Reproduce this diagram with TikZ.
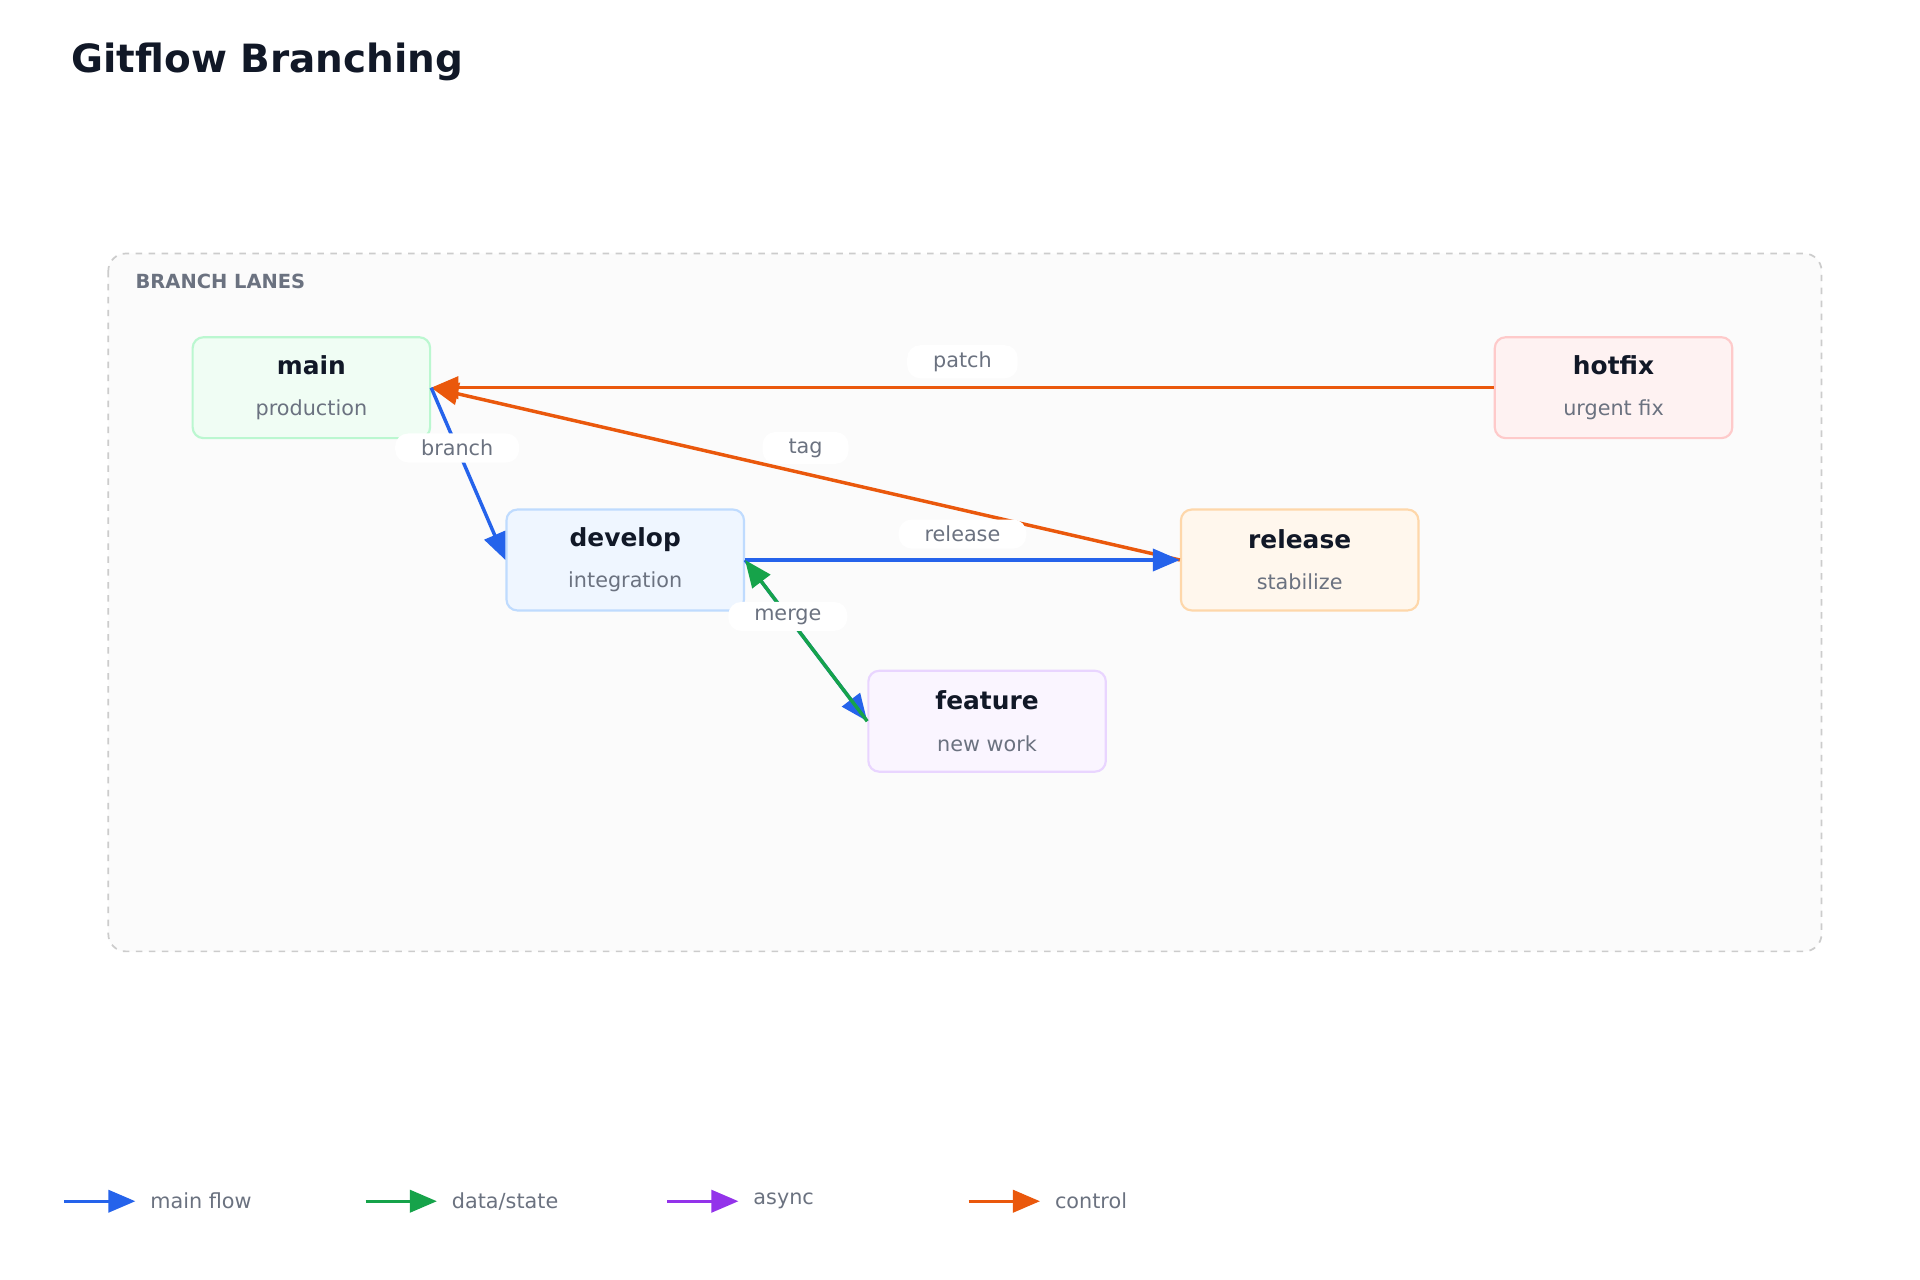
\documentclass[tikz,border=0pt]{standalone}
\usepackage{fontspec}
\setmainfont{DejaVu Sans}
\usetikzlibrary{arrows.meta}
\definecolor{flowblue}{HTML}{2563EB}
\definecolor{datagreen}{HTML}{16A34A}
\definecolor{asyncpurple}{HTML}{9333EA}
\definecolor{ctrlorange}{HTML}{EA580C}
\definecolor{darktxt}{HTML}{111827}
\definecolor{subtxt}{HTML}{6B7280}
\definecolor{mainfill}{HTML}{F0FDF4}\definecolor{maindraw}{HTML}{BBF7D0}
\definecolor{devfill}{HTML}{EFF6FF}\definecolor{devdraw}{HTML}{BFDBFE}
\definecolor{relfill}{HTML}{FFF7ED}\definecolor{reldraw}{HTML}{FED7AA}
\definecolor{hotfill}{HTML}{FEF2F2}\definecolor{hotdraw}{HTML}{FECACA}
\definecolor{featfill}{HTML}{FAF5FF}\definecolor{featdraw}{HTML}{E9D5FF}
\newcommand{\brtitle}[2]{{\fontsize{11.5}{13}\selectfont\bfseries\color{darktxt}#1}\\[7pt]{\fontsize{9.6}{11}\selectfont\color{subtxt}#2}}

\begin{document}
\begin{tikzpicture}[x=0.02cm,y=-0.02cm,
  branch/.style={draw,rounded corners=5pt,line width=1pt,minimum width=3.86cm,minimum height=1.64cm,align=center},
  edge/.style={line width=1.6pt,-{Triangle[length=0.44cm,width=0.36cm]}},
  lbl/.style={fill=white,rounded corners=6pt,inner xsep=12pt,inner ysep=3pt,text=subtxt,font=\fontsize{9.6}{11}\selectfont}]
  \useasboundingbox (0,0) rectangle (1560,1040);
  \fill[white] (0,0) rectangle (1560,1040);
  \node[anchor=west,font=\fontsize{18}{20}\selectfont\bfseries,text=darktxt] (title) at (52,50) {Gitflow Branching};
  % lane container
  \draw[dashed,draw=gray!40,fill=gray!3,rounded corners=8pt,line width=0.8pt] (88,206) rectangle (1480,773);
  \node[anchor=west,font=\fontsize{9}{11}\selectfont\bfseries,text=subtxt] (lanes) at (104,229) {BRANCH LANES};
  % branches
  \node[branch,fill=mainfill,draw=maindraw] (main) at (253,315) {\brtitle{main}{production}};
  \node[branch,fill=devfill,draw=devdraw] (develop) at (508,455) {\brtitle{develop}{integration}};
  \node[branch,fill=relfill,draw=reldraw] (release) at (1056,455) {\brtitle{release}{stabilize}};
  \node[branch,fill=hotfill,draw=hotdraw] (hotfix) at (1311,315) {\brtitle{hotfix}{urgent fix}};
  \node[branch,fill=featfill,draw=featdraw] (feature) at (802,586) {\brtitle{feature}{new work}};
  % connectors
  \draw[edge,ctrlorange] (hotfix.west) -- node[lbl,pos=0.5,yshift=12pt] {patch} (main.east);
  \draw[edge,ctrlorange] (release.west) -- node[lbl,pos=0.5,yshift=12pt] {tag} (main.east);
  \draw[edge,flowblue] (main.east) -- node[lbl,pos=0.35] {branch} (develop.west);
  \draw[edge,flowblue] (develop.east) -- node[lbl,pos=0.5,yshift=12pt] {release} (release.west);
  \draw[edge,flowblue] (develop.east) -- (feature.west);
  \draw[edge,datagreen] (feature.west) -- node[lbl,pos=0.65] {merge} (develop.east);
  % legend
  \foreach \x/\c/\t in {52/flowblue/{main flow},297/datagreen/{data/state},542/asyncpurple/{async},787/ctrlorange/{control}}{
    \coordinate (l\x) at (\x,976);
    \coordinate (r\x) at (\x+58,976);
    \draw[edge,\c] (l\x) -- (r\x);
    \node[anchor=west,text=subtxt,font=\fontsize{9.6}{11}\selectfont] at (\x+64,976) {\t};
  }
\end{tikzpicture}
\end{document}
